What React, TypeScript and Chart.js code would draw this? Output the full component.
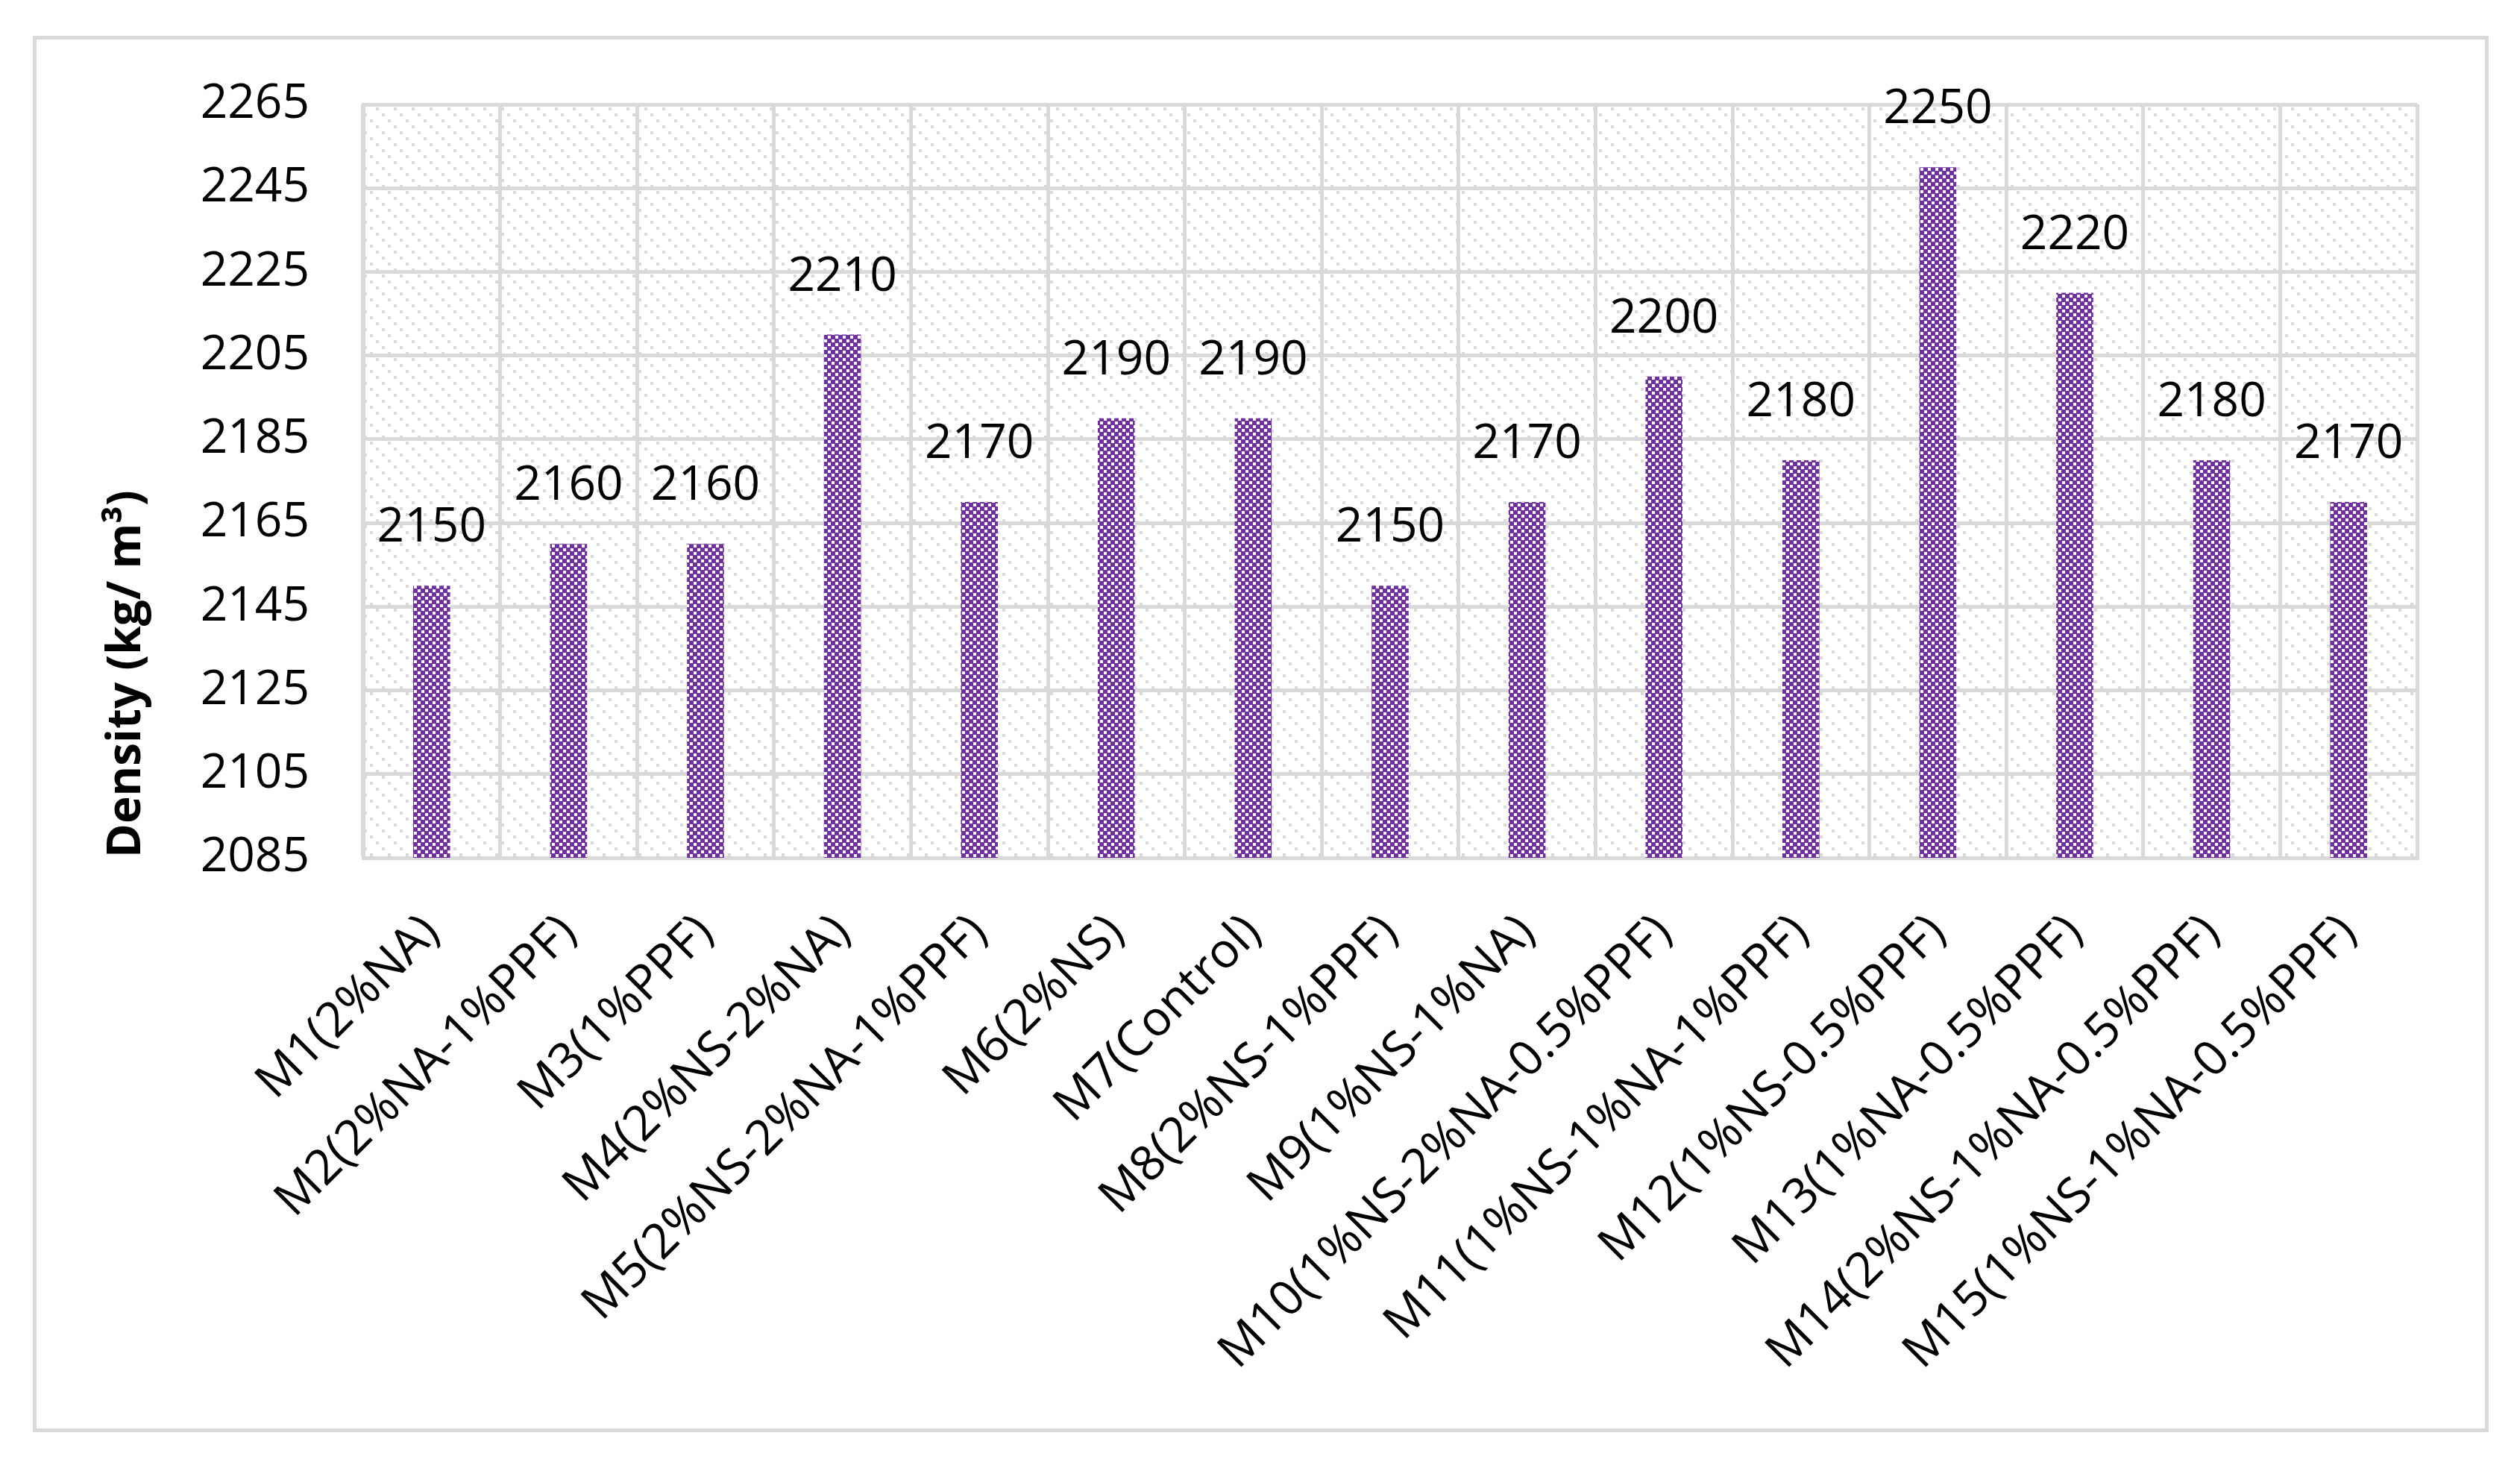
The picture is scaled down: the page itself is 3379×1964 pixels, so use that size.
import React, { useEffect, useRef } from 'react';
import { Chart, registerables } from 'chart.js';

Chart.register(...registerables);

const categories = [
  'M1(2%NA)',
  'M2(2%NA-1%PPF)',
  'M3(1%PPF)',
  'M4(2%NS-2%NA)',
  'M5(2%NS-2%NA-1%PPF)',
  'M6(2%NS)',
  'M7(Control)',
  'M8(2%NS-1%PPF)',
  'M9(1%NS-1%NA)',
  'M10(1%NS-2%NA-0.5%PPF)',
  'M11(1%NS-1%NA-1%PPF)',
  'M12(1%NS-0.5%PPF)',
  'M13(1%NA-0.5%PPF)',
  'M14(2%NS-1%NA-0.5%PPF)',
  'M15(1%NS-1%NA-0.5%PPF)',
];

const densityValues = [2150, 2160, 2160, 2210, 2170, 2190, 2190, 2150, 2170, 2200, 2180, 2250, 2220, 2180, 2170];

const yTickValues = [2085, 2105, 2125, 2145, 2165, 2185, 2205, 2225, 2245, 2265];
const yTickLabels = ['2085', '2105', '2125', '2145', '2165', '2185', '2205', '2225', '2245', '2265'];

const yAxisTitle = 'Density (kg/ m\u00B3)';

const FONT = '"Open Sans", "Noto Sans", sans-serif';
const GRID = '#d9d9d9';
const BAR_PURPLE = '#7030a0';

function makeBarPattern(ctx: CanvasRenderingContext2D) {
  const c = document.createElement('canvas');
  c.width = 10;
  c.height = 10;
  const t = c.getContext('2d')!;
  t.fillStyle = BAR_PURPLE;
  t.fillRect(0, 0, 10, 10);
  t.fillStyle = '#ffffff';
  t.fillRect(0, 0, 4, 4);
  t.fillRect(5, 5, 4, 4);
  return ctx.createPattern(c, 'repeat')!;
}

function makePlotPattern(ctx: CanvasRenderingContext2D) {
  const c = document.createElement('canvas');
  c.width = 24;
  c.height = 24;
  const t = c.getContext('2d')!;
  t.fillStyle = '#ffffff';
  t.fillRect(0, 0, 24, 24);
  t.fillStyle = '#dadada';
  t.fillRect(0, 0, 4, 4);
  t.fillRect(8, 8, 4, 4);
  t.fillRect(16, 16, 4, 4);
  return ctx.createPattern(c, 'repeat')!;
}

export default function App() {
  const canvasRef = useRef<HTMLCanvasElement | null>(null);

  useEffect(() => {
    const canvas = canvasRef.current;
    if (!canvas) return;
    const ctx = canvas.getContext('2d')!;
    const barPattern = makeBarPattern(ctx);
    const plotPattern = makePlotPattern(ctx);

    const backgroundPlugin = {
      id: 'bgAndFrame',
      beforeDraw(chart: any) {
        const { ctx: c, chartArea: a, width, height } = chart;
        c.save();
        c.fillStyle = '#ffffff';
        c.fillRect(0, 0, width, height);
        c.strokeStyle = GRID;
        c.lineWidth = 5;
        c.strokeRect(46.5, 50.5, 3288, 1867);
        c.fillStyle = plotPattern;
        c.fillRect(a.left, a.top, a.right - a.left, a.bottom - a.top);
        c.restore();
      },
    };

    const dataLabelPlugin = {
      id: 'barValueLabels',
      afterDatasetsDraw(chart: any) {
        const c = chart.ctx;
        const meta = chart.getDatasetMeta(0);
        c.save();
        c.font = `64px ${FONT}`;
        c.fillStyle = '#000000';
        c.textAlign = 'center';
        c.textBaseline = 'alphabetic';
        meta.data.forEach((bar: any, i: number) => {
          c.fillText(String(densityValues[i]), bar.x, bar.y - 59);
        });
        c.restore();
      },
    };

    const chart = new Chart(canvas, {
      type: 'bar',
      data: {
        labels: categories,
        datasets: [
          {
            label: 'Density',
            data: densityValues,
            backgroundColor: barPattern,
            borderWidth: 0,
            categoryPercentage: 1,
            barPercentage: 0.27,
          },
        ],
      },
      options: {
        animation: false,
        responsive: false,
        devicePixelRatio: 1,
        layout: { padding: { top: 140, right: 138, left: 0, bottom: 0 } },
        plugins: {
          legend: { display: false },
          tooltip: { enabled: false },
        },
        scales: {
          x: {
            offset: true,
            grid: { color: GRID, lineWidth: 5, drawTicks: false, offset: true },
            border: { display: true, color: GRID, width: 5 },
            ticks: {
              color: '#000000',
              font: { family: FONT, size: 65 },
              minRotation: 45,
              maxRotation: 45,
              autoSkip: false,
              padding: 62,
            },
            afterFit(scale: any) {
              scale.height = 814;
            },
          },
          y: {
            min: 2085,
            max: 2265,
            grid: { color: GRID, lineWidth: 5, drawTicks: false },
            border: { display: true, color: GRID, width: 5 },
            ticks: {
              color: '#000000',
              font: { family: FONT, size: 64 },
              padding: 72,
              callback: (value: any) => {
                const idx = yTickValues.indexOf(Number(value));
                return idx >= 0 ? yTickLabels[idx] : String(value);
              },
            },
            afterBuildTicks(scale: any) {
              scale.ticks = yTickValues.map((v) => ({ value: v }));
            },
            afterFit(scale: any) {
              scale.width = 487;
            },
            title: {
              display: true,
              text: yAxisTitle,
              align: 'start',
              color: '#000000',
              font: { family: FONT, size: 62, weight: 'bold' },
              padding: { top: 133, bottom: 0 },
            },
          },
        },
      },
      plugins: [backgroundPlugin, dataLabelPlugin],
    } as any);

    return () => {
      chart.destroy();
    };
  }, []);

  return (
    <div style={{ position: 'absolute', left: 0, top: 0, width: 3379, height: 1964, background: '#ffffff' }}>
      <canvas ref={canvasRef} width={3379} height={1964} style={{ width: 3379, height: 1964, display: 'block' }} />
    </div>
  );
}
